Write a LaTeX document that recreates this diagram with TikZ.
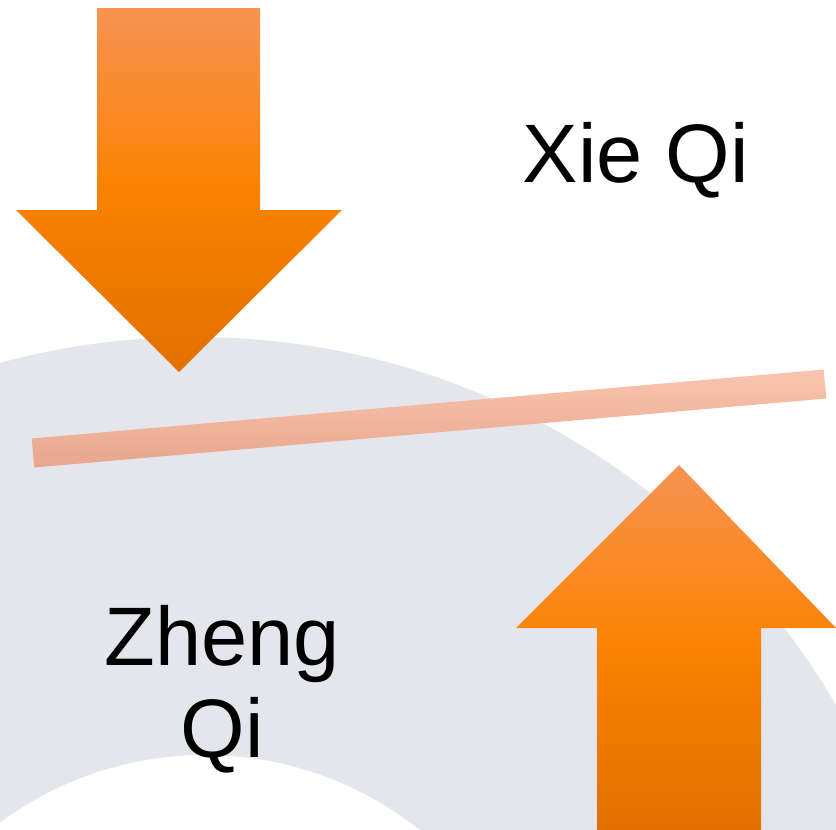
\documentclass[tikz,border=0pt]{standalone}
\usepackage{fontspec}
\setmainfont{Liberation Sans}
\usetikzlibrary{positioning}
\definecolor{ringgrey}{HTML}{E5E6EB}
\definecolor{arrowlight}{HTML}{F79352}
\definecolor{arrowmid}{HTML}{FB8200}
\definecolor{arrowdark}{HTML}{E27000}
\definecolor{barlight}{HTML}{F9C5AF}
\definecolor{bardark}{HTML}{E8A68D}
\tikzset{
    ring/.style={
                fill=ringgrey,
                draw=none,
                even odd rule
            },
        bigarrow/.style={
                top color=arrowlight,
                bottom color=arrowdark,
                middle color=arrowmid,
                draw=none
            },
        balancebar/.style={
                top color=barlight,
                bottom color=bardark,
                draw=none
            },
        qitext/.style={
                font=\fontsize{83}{96}\selectfont,
                text=black,
                inner sep=0pt,
                anchor=base
            },
}
\begin{document}
\begin{tikzpicture}[x=1pt,y=-1pt]
  \useasboundingbox (0,0) rectangle (836,830);
  % Ring
  \begin{scope}
    \clip (0,0) rectangle (836,830);
    \path[ring] (195,1079) circle (742) (205,1100) circle (345);
  \end{scope}
  % Bar
  \path[balancebar] (31.7,438.5) -- (823.7,369.5) -- (826.3,398.5) -- (34.3,467.5) -- cycle;
  % Arrows
  \path[bigarrow] (97,8) -- (260,8) -- (260,210) -- (342,210) -- (179,372)
    -- (16,210) -- (97,210) -- cycle;
  \path[bigarrow] (679,465) -- (836,628) -- (761,628) -- (761,830) -- (597,830)
    -- (597,628) -- (516,628) -- cycle;
  % Labels
  \node[qitext] (xie) at (636,182) {Xie Qi};
  \node[qitext] (zheng) at (222,665) {Zheng};
  \node[qitext] (qi) at (222,757) {Qi};
\end{tikzpicture}
\end{document}
